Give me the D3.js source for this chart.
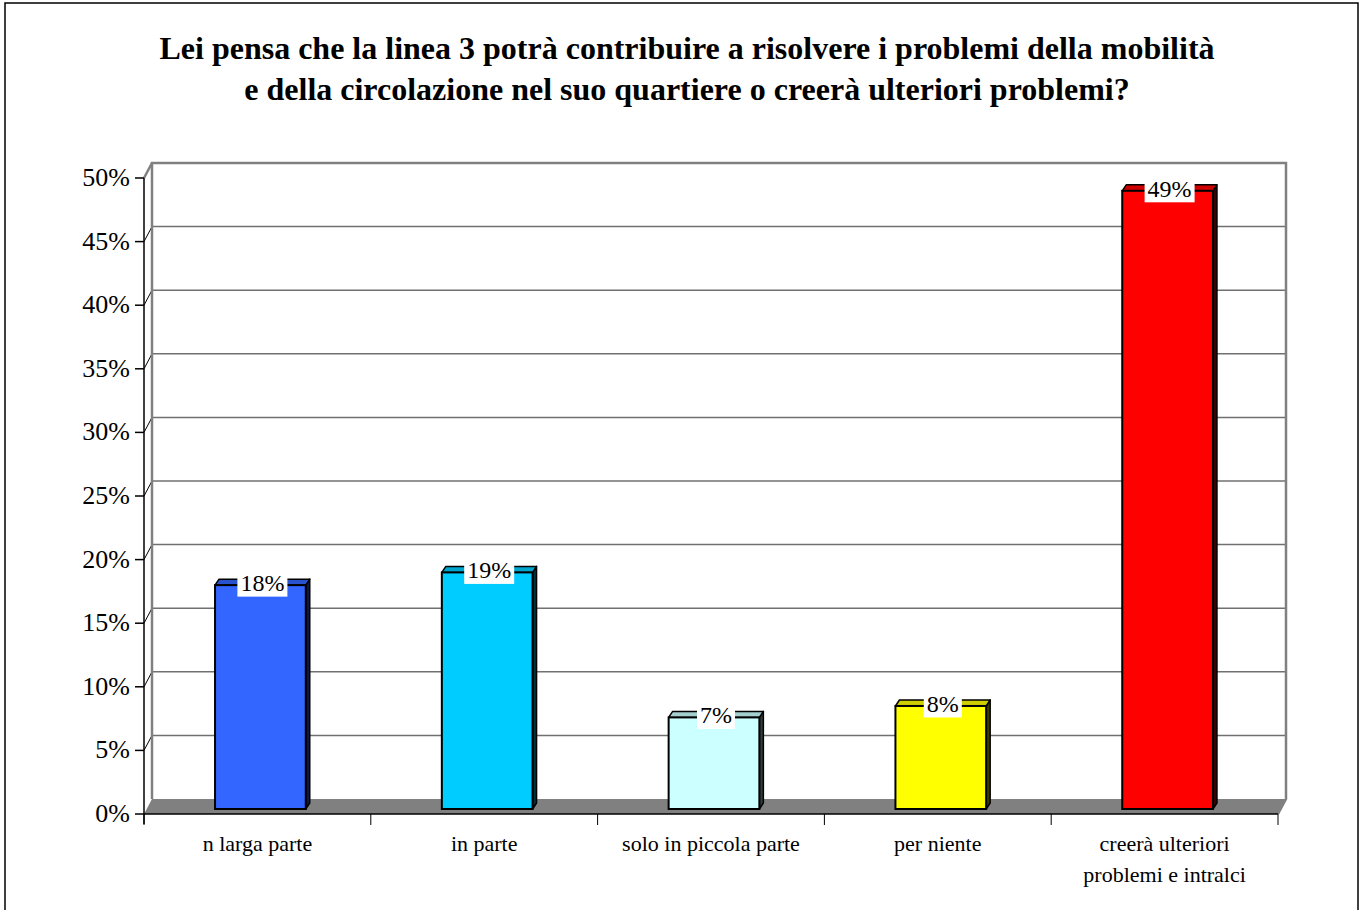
<!DOCTYPE html>
<html><head><meta charset="utf-8">
<script src="https://cdn.jsdelivr.net/npm/d3@7/dist/d3.min.js"></script>
<style>body{margin:0;background:#fff;}svg{display:block;}</style>
</head><body>
<script>
const titleLines = ["Lei pensa che la linea 3 potrà contribuire a risolvere i problemi della mobilità",
                    "e della circolazione nel suo quartiere o creerà ulteriori problemi?"];
const categories = [["n larga parte"], ["in parte"], ["solo in piccola parte"], ["per niente"], ["creerà ulteriori", "problemi e intralci"]];
const values = [17.6, 18.6, 7.2, 8.1, 48.6];
const colors = ["#3366FF", "#00CCFF", "#CCFFFF", "#FFFF00", "#FF0000"];
const yTicks = [0, 5, 10, 15, 20, 25, 30, 35, 40, 45, 50];

const W = 1365, H = 910;
const svg = d3.select("body").append("svg").attr("width", W).attr("height", H);
const font = "'Liberation Serif','Times New Roman',serif";

// frame
svg.append("rect").attr("x", 5).attr("y", 3).attr("width", 1353).attr("height", 915)
  .attr("fill", "#fff").attr("stroke", "#000").attr("stroke-width", 1.5);

// title
svg.append("g").selectAll("text").data(titleLines).join("text")
  .attr("x", 687).attr("y", (d, i) => 59 + i * 41)
  .attr("text-anchor", "middle").attr("font-family", font).attr("font-weight", "bold")
  .attr("font-size", 32).text(d => d);

const x0 = 144, x1 = 1278;
const DX = 8, DY = -15;
const y = d3.scaleLinear().domain([0, 50]).range([814, 178]);
const x = d3.scaleBand().domain(d3.range(categories.length)).range([x0, x1]).paddingInner(0.6).paddingOuter(0.3);
const band = d3.scaleBand().domain(d3.range(categories.length)).range([x0, x1]);

// floor
svg.append("polygon")
  .attr("points", [[x0, y(0)], [x1, y(0)], [x1 + DX, y(0) + DY], [x0 + DX, y(0) + DY]].join(" "))
  .attr("fill", "#808080");

// gridlines on back wall
svg.append("g").selectAll("line").data(yTicks.filter(t => t > 0 && t < 50)).join("line")
  .attr("x1", x0 + DX).attr("x2", x1 + DX)
  .attr("y1", d => y(d) + DY).attr("y2", d => y(d) + DY)
  .attr("stroke", "#707070").attr("stroke-width", 1.5);

// side wall diagonals
svg.append("g").selectAll("line").data(yTicks.filter(t => t > 0)).join("line")
  .attr("x1", x0).attr("y1", d => y(d))
  .attr("x2", x0 + DX).attr("y2", d => y(d) + DY)
  .attr("stroke", d => d === 50 ? "#808080" : "#000").attr("stroke-width", d => d === 50 ? 2.5 : 1);

// back wall outline
svg.append("path")
  .attr("d", `M${x0 + DX},${y(0) + DY}V${y(50) + DY}H${x1 + DX}V${y(0) + DY}L${x1},${y(0)}`)
  .attr("fill", "none").attr("stroke", "#808080").attr("stroke-width", 2.5);

// y axis
svg.append("line").attr("x1", x0).attr("x2", x0).attr("y1", y(50)).attr("y2", y(0) + 10)
  .attr("stroke", "#000").attr("stroke-width", 1.5);
svg.append("g").selectAll("line").data(yTicks).join("line")
  .attr("x1", x0 - 9).attr("x2", x0).attr("y1", d => y(d)).attr("y2", d => y(d))
  .attr("stroke", "#000").attr("stroke-width", 1.5);
svg.append("g").selectAll("text").data(yTicks).join("text")
  .attr("x", x0 - 14).attr("y", d => y(d) + 8)
  .attr("text-anchor", "end").attr("font-family", font).attr("font-size", 26)
  .text(d => d + "%");

// x axis
svg.append("line").attr("x1", x0).attr("x2", x1).attr("y1", y(0)).attr("y2", y(0))
  .attr("stroke", "#000").attr("stroke-width", 1.5);
const bounds = d3.range(categories.length + 1).map(i => i < categories.length ? band(i) : x1);
svg.append("g").selectAll("line").data(bounds).join("line")
  .attr("x1", d => d).attr("x2", d => d).attr("y1", y(0)).attr("y2", y(0) + 11)
  .attr("stroke", "#000").attr("stroke-width", 1);
const catG = svg.append("g").selectAll("text").data(categories).join("text")
  .attr("text-anchor", "middle").attr("font-family", font).attr("font-size", 22)
  .attr("x", (d, i) => band(i) + band.bandwidth() / 2).attr("y", 851);
catG.selectAll("tspan").data(d => d).join("tspan")
  .attr("x", function () { return this.parentNode.getAttribute("x"); })
  .attr("dy", (d, i) => i === 0 ? 0 : 31).text(d => d);

// bars
const bo = { dx: 3, dy: -5 };   // bar offset into depth
const bd = { dx: 4, dy: -6 };   // bar depth
const bars = svg.append("g").selectAll("g").data(values).join("g");
bars.each(function (v, i) {
  const g = d3.select(this);
  const xl = x(i) + bo.dx, xr = x(i) + x.bandwidth() + bo.dx;
  const yt = y(v) + bo.dy, yb = y(0) + bo.dy;
  const c = d3.color(colors[i]);
  g.append("polygon").attr("points", [[xr, yb], [xr, yt], [xr + bd.dx, yt + bd.dy], [xr + bd.dx, yb + bd.dy]].join(" "))
    .attr("fill", c.darker(4)).attr("stroke", "#000").attr("stroke-width", 1.5).attr("stroke-linejoin", "round");
  g.append("polygon").attr("points", [[xl, yt], [xr, yt], [xr + bd.dx, yt + bd.dy], [xl + bd.dx, yt + bd.dy]].join(" "))
    .attr("fill", c.darker(0.6)).attr("stroke", "#000").attr("stroke-width", 1.5).attr("stroke-linejoin", "round");
  g.append("rect").attr("x", xl).attr("y", yt).attr("width", xr - xl).attr("height", yb - yt)
    .attr("fill", colors[i]).attr("stroke", "#000").attr("stroke-width", 2);
  // label
  const cx = (xl + xr) / 2 + 2, cy = yt - 2;
  const t = g.append("text").attr("x", cx).attr("y", cy + 8).attr("text-anchor", "middle")
    .attr("font-family", font).attr("font-size", 24).text(Math.round(v) + "%");
  const w = t.node().getComputedTextLength() + 6;
  g.insert("rect", "text").attr("x", cx - w / 2).attr("y", cy - 13.5).attr("width", w).attr("height", 27).attr("fill", "#fff");
});
</script>
</body></html>
